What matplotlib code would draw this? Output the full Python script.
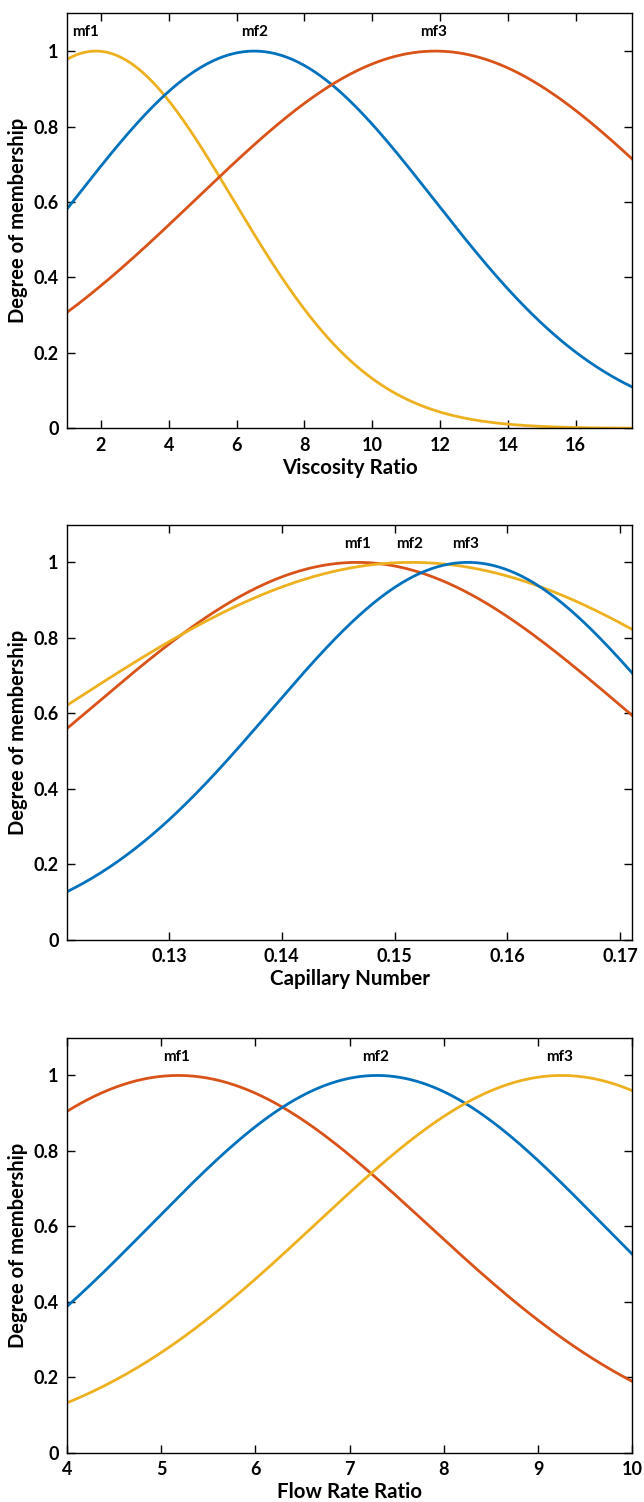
import numpy as np
import matplotlib
matplotlib.use("Agg")
import matplotlib.pyplot as plt

# Gaussian membership functions: centre and width of mf1..mf3
visc_centers = [1.85, 6.52, 11.86]
visc_sigmas = [4.05, 5.30, 7.07]
visc_range = [1.0, 17.67]

cap_centers = [0.1467, 0.1515, 0.1565]
cap_sigmas = [0.0239, 0.0313, 0.0175]
cap_range = [0.12095, 0.1711]

flow_centers = [5.18, 7.29, 9.25]
flow_sigmas = [2.64, 2.39, 2.61]
flow_range = [4.0, 10.0]

mf_names = ["mf1", "mf2", "mf3"]

# label x positions as they sit in the figure (mf1 of the first panel is nudged inside)
visc_label_x = [1.56, 6.52, 11.80]
cap_label_x = [0.14676, 0.15131, 0.15633]
flow_label_x = [5.165, 7.28, 9.23]

visc_ticks = [2, 4, 6, 8, 10, 12, 14, 16]
cap_ticks = [0.13, 0.14, 0.15, 0.16, 0.17]
flow_ticks = [4, 5, 6, 7, 8, 9, 10]
y_ticks = [0, 0.2, 0.4, 0.6, 0.8, 1]
y_tick_labels = ["0", "0.2", "0.4", "0.6", "0.8", "1"]

BLUE = "#0072BD"
RED = "#D95319"
YELLOW = "#EDB120"

plt.rcParams['font.family'] = ['Lato', 'DejaVu Sans']
plt.rcParams['font.weight'] = 'bold'


def gaussmf(x, c, s):
    return np.exp(-(x - c) ** 2 / (2 * s ** 2))


def draw_panel(ax, centers, sigmas, xr, colors, label_x, ticks, tick_fmt, xlabel):
    x = np.linspace(xr[0], xr[1], 400)
    for c, s, col in zip(centers, sigmas, colors):
        ax.plot(x, gaussmf(x, c, s), color=col, lw=2.0)
    for lx, name in zip(label_x, mf_names):
        ax.text(lx, 1.05, name, ha='center', va='center', fontsize=11, fontweight='bold')
    ax.set_xlim(xr)
    ax.set_ylim(0, 1.1)
    ax.set_xticks(ticks)
    ax.set_xticklabels([tick_fmt(t) for t in ticks])
    ax.set_yticks(y_ticks)
    ax.set_yticklabels(y_tick_labels)
    ax.tick_params(direction='in', top=True, right=True, length=6, width=1.0,
                   labelsize=13, pad=6)
    for sp in ax.spines.values():
        sp.set_linewidth(1.0)
    ax.set_xlabel(xlabel, fontsize=14.8, fontweight='bold', labelpad=3)
    ax.set_ylabel("Degree of membership", fontsize=14.5, fontweight='bold', labelpad=4)


fig = plt.figure(figsize=(6.44, 15.02), dpi=100)
left, width, height = 0.1040, 0.878, 0.2763
ax1 = fig.add_axes([left, 0.7148, width, height])
ax2 = fig.add_axes([left, 0.3744, width, height])
ax3 = fig.add_axes([left, 0.0328, width, height])

draw_panel(ax1, visc_centers, visc_sigmas, visc_range, [YELLOW, BLUE, RED],
           visc_label_x, visc_ticks, lambda t: f"{t:g}", "Viscosity Ratio")
draw_panel(ax2, cap_centers, cap_sigmas, cap_range, [RED, YELLOW, BLUE],
           cap_label_x, cap_ticks, lambda t: f"{t:.2f}", "Capillary Number")
draw_panel(ax3, flow_centers, flow_sigmas, flow_range, [RED, BLUE, YELLOW],
           flow_label_x, flow_ticks, lambda t: f"{t:g}", "Flow Rate Ratio")

fig.savefig("out.png", dpi=100)
